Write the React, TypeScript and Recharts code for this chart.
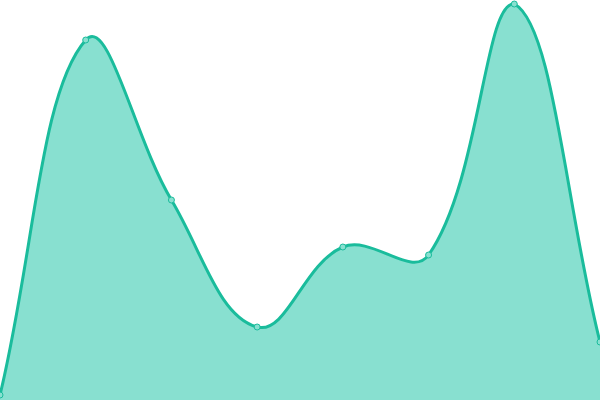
import { AreaChart, Area, XAxis, YAxis } from 'recharts';

const categories = ['A', 'B', 'C', 'D', 'E', 'F', 'G', 'H'];
const values = [5, 360, 200, 73, 153, 145, 396, 58];

const data = categories.map((name, i) => ({ name, value: values[i] }));

const WIDTH = 600;
const HEIGHT = 400;
const TENSION = 0.4;

const clamp = (v: number, lo: number, hi: number) => Math.max(lo, Math.min(hi, v));

// distance-weighted bezier spline, control points kept inside the plot
function splineCurve(context: any) {
  let line = NaN;
  let pts: number[][] = [];
  return {
    areaStart() { line = 0; },
    areaEnd() { line = NaN; },
    lineStart() { pts = []; },
    point(x: number, y: number) { pts.push([+x, +y]); },
    lineEnd() {
      const n = pts.length;
      if (n > 0) {
        if (line) context.lineTo(pts[0][0], pts[0][1]);
        else context.moveTo(pts[0][0], pts[0][1]);
        const before: number[][] = [];
        const after: number[][] = [];
        for (let i = 0; i < n; i++) {
          const prev = pts[Math.max(0, i - 1)];
          const cur = pts[i];
          const next = pts[Math.min(n - 1, i + 1)];
          const d01 = Math.hypot(cur[0] - prev[0], cur[1] - prev[1]);
          const d12 = Math.hypot(next[0] - cur[0], next[1] - cur[1]);
          let s01 = d01 / (d01 + d12);
          let s12 = d12 / (d01 + d12);
          if (isNaN(s01)) s01 = 0;
          if (isNaN(s12)) s12 = 0;
          const fa = TENSION * s01;
          const fb = TENSION * s12;
          const dx = next[0] - prev[0];
          const dy = next[1] - prev[1];
          before.push([clamp(cur[0] - fa * dx, 0, WIDTH), clamp(cur[1] - fa * dy, 0, HEIGHT)]);
          after.push([clamp(cur[0] + fb * dx, 0, WIDTH), clamp(cur[1] + fb * dy, 0, HEIGHT)]);
        }
        for (let i = 1; i < n; i++) {
          context.bezierCurveTo(
            after[i - 1][0], after[i - 1][1],
            before[i][0], before[i][1],
            pts[i][0], pts[i][1]
          );
        }
      }
      if (line || (line !== 0 && n === 1)) context.closePath();
      line = 1 - line;
    },
  };
}

export default function App() {
  return (
    <div style={{ position: 'absolute', left: 0, top: 0, width: WIDTH, height: HEIGHT, background: '#fff' }}>
      <AreaChart width={WIDTH} height={HEIGHT} data={data} margin={{ top: 0, right: 0, left: 0, bottom: 0 }}>
        <XAxis dataKey="name" hide padding={{ left: 0, right: 0 }} />
        <YAxis hide domain={[0, 400]} />
        <Area
          type={splineCurve as any}
          dataKey="value"
          stroke="#1abc9c"
          strokeWidth={3}
          fill="#88e0d0"
          fillOpacity={1}
          dot={{ r: 3, fill: '#88e0d0', stroke: '#1abc9c', strokeWidth: 1 }}
          activeDot={false}
          isAnimationActive={false}
        />
      </AreaChart>
    </div>
  );
}
